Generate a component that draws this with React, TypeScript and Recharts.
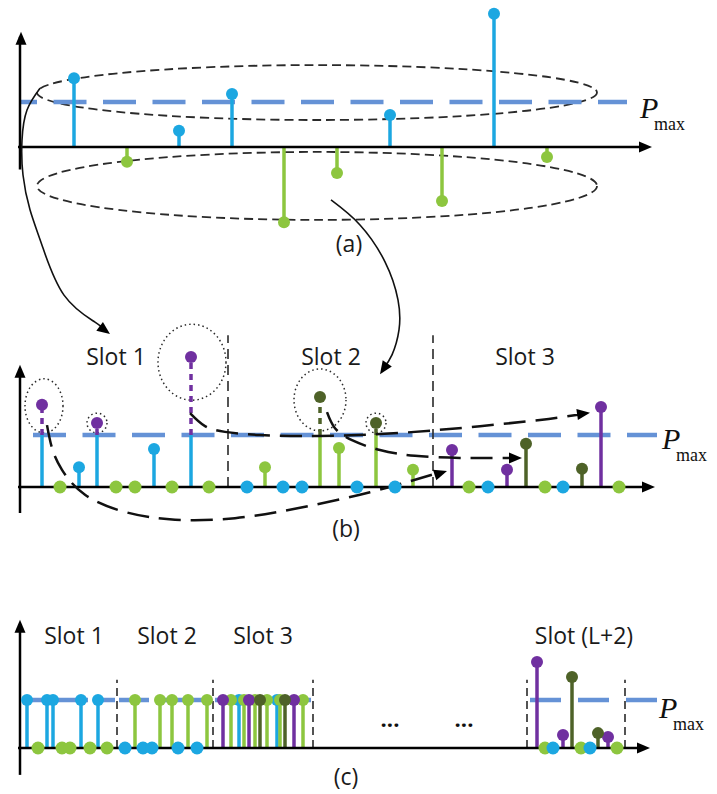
import React from "react";
import {
    ComposedChart,
    Line,
    ReferenceArea,
    ReferenceLine,
    Scatter,
    XAxis,
    YAxis,
} from "recharts";

const W = 717;
const H = 794;

const BLUE = "#1ca7e1";
const GREEN = "#8dc63f";
const PURPLE = "#7030a0";
const DKGREEN = "#4e6228";
const PMAX_COLOR = "#6592d6";

// each panel: pixel row of its zero line and pixels per one Pmax
const panelA = { zero: 147, unit: 45 };
const panelB = { zero: 487, unit: 52 };
const panelC = { zero: 748, unit: 48 };
const dom = (p: { zero: number; unit: number }) => [-(H - p.zero) / p.unit, p.zero / p.unit];

// (a) raw powers, in units of Pmax
const aBlueT = [74, 179, 232, 390, 494];
const aBlueP = [1.53, 0.36, 1.18, 0.71, 2.96];
const aGreenT = [127, 284, 337, 442, 547];
const aGreenP = [-0.33, -1.67, -0.58, -1.2, -0.22];

// (b) after clipping at Pmax
const bBlueT = [79, 154];
const bBlueP = [0.38, 0.73];
const bBlueCapT = [42, 97, 191];
const bPurpleExcessP = [1.58, 1.23, 2.5];
const bGreenT = [265, 339, 413];
const bGreenP = [0.38, 0.75, 0.33];
const bGreenCapT = [320, 376];
const bDkExcessP = [1.73, 1.23];
const bPurpleT = [452, 507, 601];
const bPurpleP = [0.71, 0.33, 1.54];
const bDkT = [526, 582];
const bDkP = [0.83, 0.35];
const bGreenZeroT = [60, 116, 135, 172, 209, 469, 545, 619];
const bBlueZeroT = [247, 283, 302, 357, 395, 488, 563];
const bSlotEdges = [228, 433];
const bSlotLabels = ["Slot 1", "Slot 2", "Slot 3"];
const bSlotLabelT = [116, 331, 525];

// (c) final schedule
const cBlueCapT = [27, 47, 53, 81, 98, 239, 277];
const cGreenCapT = [135, 160, 172, 188, 207, 231, 244, 255, 267, 280, 303];
const cPurpleCapT = [223, 249, 294];
const cDkCapT = [260, 285];
const cGreenZeroT = [38, 62, 70, 90, 107, 545, 581, 617];
const cBlueZeroT = [125, 143, 152, 178, 197, 553, 590];
const cPurpleT = [537, 563, 608];
const cPurpleP = [1.79, 0.27, 0.23];
const cDkT = [572, 598];
const cDkP = [1.48, 0.31];
const cSlotEdges = [117, 213, 313, 527, 625];
const cSlotLabels = ["Slot 1", "Slot 2", "Slot 3", "Slot (L+2)"];
const cSlotLabelT = [74, 167, 263, 584];

// annotation curves (panel b units)
const arrowAtoB1 = [
    { t: 40, p: 7.67 }, { t: 27, p: 7.25 }, { t: 22, p: 6.67 }, { t: 23, p: 6.0 },
    { t: 30, p: 5.33 }, { t: 42, p: 4.65 }, { t: 64, p: 3.69 }, { t: 95, p: 3.17 }, { t: 104, p: 3.02 },
];
const arrowAtoB2 = [
    { t: 331, p: 5.52 }, { t: 360, p: 5.04 }, { t: 385, p: 4.33 }, { t: 398, p: 3.6 },
    { t: 399, p: 3.02 }, { t: 392, p: 2.54 }, { t: 384, p: 2.3 },
];
const moveA = [
    { t: 47, p: 1.19 }, { t: 52, p: 0.75 }, { t: 62, p: 0.33 }, { t: 85, p: -0.15 },
    { t: 125, p: -0.48 }, { t: 175, p: -0.63 }, { t: 235, p: -0.6 }, { t: 300, p: -0.4 },
    { t: 370, p: -0.1 }, { t: 436, p: 0.26 },
];
const moveB = [
    { t: 190, p: 1.42 }, { t: 205, p: 1.17 }, { t: 225, p: 1.06 }, { t: 260, p: 1.0 },
    { t: 320, p: 0.98 }, { t: 400, p: 1.04 }, { t: 480, p: 1.17 }, { t: 540, p: 1.29 }, { t: 578, p: 1.39 },
];
const moveC = [
    { t: 327, p: 1.44 }, { t: 335, p: 1.13 }, { t: 352, p: 0.9 }, { t: 380, p: 0.71 },
    { t: 415, p: 0.6 }, { t: 460, p: 0.56 }, { t: 510, p: 0.56 },
];
const headsB = [
    { t: 110, p: 2.94, a: 37 }, { t: 380, p: 2.17, a: 124 }, { t: 447, p: 0.31, a: -18 },
    { t: 590, p: 1.43, a: -8 }, { t: 522, p: 0.56, a: 0 },
];
const headsA = [{ t: 21, p: 2.56, a: -90 }, { t: 652, p: 0, a: 0 }];
const headsBAxis = [{ t: 20, p: 2.35, a: -90 }, { t: 655, p: 0, a: 0 }];
const headsC = [{ t: 20, p: 2.67, a: -90 }, { t: 650, p: 0, a: 0 }];

const pts = (ts: number[], ps?: number[], v = 0) => ts.map((t, i) => ({ t, p: ps ? ps[i] : v }));

const dot = (color: string, r = 6) => (props: any) =>
    props.cx == null ? <g /> : <circle cx={props.cx} cy={props.cy} r={r} fill={color} />;

const head = (props: any) => (
    <polygon
        points="0,0 -13,-5.5 -13,5.5"
        fill="#000"
        transform={`translate(${props.cx},${props.cy}) rotate(${props.payload.a})`}
    />
);

const oval = (dash: string, width: number) => (props: any) => {
    const { x, y, width: w, height: h } = props;
    return (
        <ellipse
            cx={x + w / 2}
            cy={y + h / 2}
            rx={Math.abs(w) / 2}
            ry={Math.abs(h) / 2}
            fill="none"
            stroke="#2a2a2a"
            strokeWidth={width}
            strokeDasharray={dash}
        />
    );
};

const stems = (id: string, ts: number[], ps: number[], color: string, from = 0, dash?: string) =>
    ts.map((t, i) => (
        <ReferenceLine
            key={`${id}-${color}-${t}-${from}`}
            yAxisId={id}
            segment={[{ x: t, y: from }, { x: t, y: ps[i] }]}
            stroke={color}
            strokeWidth={3.5}
            strokeDasharray={dash}
        />
    ));

const dots = (id: string, data: { t: number; p: number }[], color: string, r = 6) => (
    <Scatter
        key={`${id}-dots-${color}-${data[0].t}`}
        yAxisId={id}
        data={data}
        dataKey="p"
        shape={dot(color, r)}
        isAnimationActive={false}
    />
);

const axisLines = (id: string, yFrom: number, yTo: number, xTo: number) => [
    <ReferenceLine key={`${id}-ya`} yAxisId={id} segment={[{ x: 20, y: yFrom }, { x: 20, y: yTo }]} stroke="#000" strokeWidth={2.5} />,
    <ReferenceLine key={`${id}-xa`} yAxisId={id} segment={[{ x: 18, y: 0 }, { x: xTo, y: 0 }]} stroke="#000" strokeWidth={2.5} />,
];

const pmax = (id: string, x1: number, x2: number, dash: string, offset = 0) => (
    <ReferenceLine
        key={`${id}-pmax-${x1}`}
        yAxisId={id}
        segment={[{ x: x1, y: 1 }, { x: x2, y: 1 }]}
        stroke={PMAX_COLOR}
        strokeWidth={4.5}
        strokeDasharray={dash}
        strokeDashoffset={offset}
    />
);

const PmaxLabel = ({ x, y }: { x: number; y: number }) => (
    <g>
        <text x={x} y={y} fontFamily="Liberation Serif" fontStyle="italic" fontSize={30} fill="#111">
            P
        </text>
        <text x={x + 14} y={y + 12} fontFamily="Liberation Serif" fontSize={18} fill="#111">
            max
        </text>
    </g>
);

const labelFont = { fontFamily: "Open Sans", fontSize: 23, fill: "#1a1a1a" };

export default function App() {
    return (
        <div style={{ position: "absolute", left: 0, top: 0, width: W, height: H, background: "#fff" }}>
            <ComposedChart width={W} height={H} margin={{ top: 0, right: 0, bottom: 0, left: 0 }}>
                <XAxis type="number" dataKey="t" domain={[0, W]} hide allowDataOverflow />
                <YAxis yAxisId="a" type="number" domain={dom(panelA)} hide allowDataOverflow />
                <YAxis yAxisId="b" type="number" domain={dom(panelB)} hide allowDataOverflow />
                <YAxis yAxisId="c" type="number" domain={dom(panelC)} hide allowDataOverflow />

                {/* (a) */}
                {pmax("a", 20, 627, "33 16.5", 16)}
                <ReferenceArea yAxisId="a" x1={37} x2={597} y1={0.6} y2={1.82} shape={oval("9 5", 1.8)} />
                <ReferenceArea yAxisId="a" x1={37} x2={597} y1={-1.62} y2={-0.11} shape={oval("9 5", 1.8)} />
                {stems("a", aBlueT, aBlueP, BLUE)}
                {stems("a", aGreenT, aGreenP, GREEN)}
                {axisLines("a", -0.5, 2.45, 642)}
                {dots("a", pts(aBlueT, aBlueP), BLUE)}
                {dots("a", pts(aGreenT, aGreenP), GREEN)}
                <Scatter yAxisId="a" data={headsA} dataKey="p" shape={head} isAnimationActive={false} />

                {/* (b) */}
                {pmax("b", 33, 657, "33 16.5")}
                {bSlotEdges.map((t) => (
                    <ReferenceLine key={`bs-${t}`} yAxisId="b" segment={[{ x: t, y: 0 }, { x: t, y: 2.92 }]} stroke="#2a2a2a" strokeWidth={1.6} strokeDasharray="10 6" />
                ))}
                <ReferenceArea yAxisId="b" x1={25} x2={63} y1={1.04} y2={2.08} shape={oval("1.5 3", 1.5)} />
                <ReferenceArea yAxisId="b" x1={87} x2={107} y1={1.04} y2={1.42} shape={oval("1.5 3", 1.5)} />
                <ReferenceArea yAxisId="b" x1={158} x2={226} y1={1.67} y2={3.13} shape={oval("1.5 3", 1.5)} />
                <ReferenceArea yAxisId="b" x1={294} x2={346} y1={1.08} y2={2.27} shape={oval("1.5 3", 1.5)} />
                <ReferenceArea yAxisId="b" x1={366} x2={386} y1={1.04} y2={1.42} shape={oval("1.5 3", 1.5)} />
                {stems("b", bBlueT, bBlueP, BLUE)}
                {stems("b", bBlueCapT, bBlueCapT.map(() => 1), BLUE)}
                {stems("b", bBlueCapT, bPurpleExcessP, PURPLE, 1, "6 5")}
                {stems("b", bGreenT, bGreenP, GREEN)}
                {stems("b", bGreenCapT, bGreenCapT.map(() => 1), GREEN)}
                {stems("b", bGreenCapT, bDkExcessP, DKGREEN, 1, "6 5")}
                {stems("b", bPurpleT, bPurpleP, PURPLE)}
                {stems("b", bDkT, bDkP, DKGREEN)}
                {axisLines("b", -0.5, 2.2, 645)}
                {dots("b", pts(bBlueT, bBlueP), BLUE)}
                {dots("b", pts(bBlueCapT, bPurpleExcessP), PURPLE)}
                {dots("b", pts(bGreenT, bGreenP), GREEN)}
                {dots("b", pts(bGreenCapT, bDkExcessP), DKGREEN)}
                {dots("b", pts(bPurpleT, bPurpleP), PURPLE)}
                {dots("b", pts(bDkT, bDkP), DKGREEN)}
                {dots("b", pts(bGreenZeroT), GREEN, 6.5)}
                {dots("b", pts(bBlueZeroT), BLUE, 6.5)}
                <Line yAxisId="b" data={arrowAtoB1} dataKey="p" type="natural" stroke="#111" strokeWidth={1.6} dot={false} activeDot={false} isAnimationActive={false} />
                <Line yAxisId="b" data={arrowAtoB2} dataKey="p" type="natural" stroke="#111" strokeWidth={1.6} dot={false} activeDot={false} isAnimationActive={false} />
                <Line yAxisId="b" data={moveA} dataKey="p" type="natural" stroke="#111" strokeWidth={2.5} strokeDasharray="22 10" dot={false} activeDot={false} isAnimationActive={false} />
                <Line yAxisId="b" data={moveB} dataKey="p" type="natural" stroke="#111" strokeWidth={2.5} strokeDasharray="22 10" dot={false} activeDot={false} isAnimationActive={false} />
                <Line yAxisId="b" data={moveC} dataKey="p" type="natural" stroke="#111" strokeWidth={2.5} strokeDasharray="22 10" dot={false} activeDot={false} isAnimationActive={false} />
                <Scatter yAxisId="b" data={headsB} dataKey="p" shape={head} isAnimationActive={false} />
                <Scatter yAxisId="b" data={headsBAxis} dataKey="p" shape={head} isAnimationActive={false} />

                {/* (c) */}
                {pmax("c", 22, 115, "30 6")}
                {pmax("c", 119, 211, "30 6")}
                {pmax("c", 215, 311, "30 6")}
                {pmax("c", 530, 658, "31 17")}
                {cSlotEdges.map((t) => (
                    <ReferenceLine key={`cs-${t}`} yAxisId="c" segment={[{ x: t, y: 0 }, { x: t, y: 1.42 }]} stroke="#2a2a2a" strokeWidth={1.6} strokeDasharray="8 5" />
                ))}
                {stems("c", cBlueCapT, cBlueCapT.map(() => 1), BLUE)}
                {stems("c", cGreenCapT, cGreenCapT.map(() => 1), GREEN)}
                {stems("c", cPurpleCapT, cPurpleCapT.map(() => 1), PURPLE)}
                {stems("c", cDkCapT, cDkCapT.map(() => 1), DKGREEN)}
                {stems("c", cPurpleT, cPurpleP, PURPLE)}
                {stems("c", cDkT, cDkP, DKGREEN)}
                {axisLines("c", -0.56, 2.5, 640)}
                {dots("c", pts(cBlueCapT, undefined, 1), BLUE)}
                {dots("c", pts(cGreenCapT, undefined, 1), GREEN)}
                {dots("c", pts(cPurpleCapT, undefined, 1), PURPLE)}
                {dots("c", pts(cDkCapT, undefined, 1), DKGREEN)}
                {dots("c", pts(cPurpleT, cPurpleP), PURPLE)}
                {dots("c", pts(cDkT, cDkP), DKGREEN)}
                {dots("c", pts(cGreenZeroT), GREEN, 6.5)}
                {dots("c", pts(cBlueZeroT), BLUE, 6.5)}
                <Scatter yAxisId="c" data={headsC} dataKey="p" shape={head} isAnimationActive={false} />
            </ComposedChart>

            <svg width={W} height={H} style={{ position: "absolute", left: 0, top: 0, pointerEvents: "none" }}>
                <text x={349} y={252} textAnchor="middle" {...labelFont}>(a)</text>
                <text x={346} y={537} textAnchor="middle" {...labelFont}>(b)</text>
                <text x={346} y={785} textAnchor="middle" {...labelFont}>(c)</text>
                {bSlotLabels.map((s, i) => (
                    <text key={s} x={bSlotLabelT[i]} y={365} textAnchor="middle" {...labelFont}>{s}</text>
                ))}
                {cSlotLabels.map((s, i) => (
                    <text key={s} x={cSlotLabelT[i]} y={644} textAnchor="middle" {...labelFont}>{s}</text>
                ))}
                <text x={390} y={727} textAnchor="middle" fontFamily="Open Sans" fontWeight="bold" fontSize={22} fill="#111">...</text>
                <text x={464} y={727} textAnchor="middle" fontFamily="Open Sans" fontWeight="bold" fontSize={22} fill="#111">...</text>
                <PmaxLabel x={640} y={118} />
                <PmaxLabel x={662} y={449} />
                <PmaxLabel x={659} y={718} />
            </svg>
        </div>
    );
}
